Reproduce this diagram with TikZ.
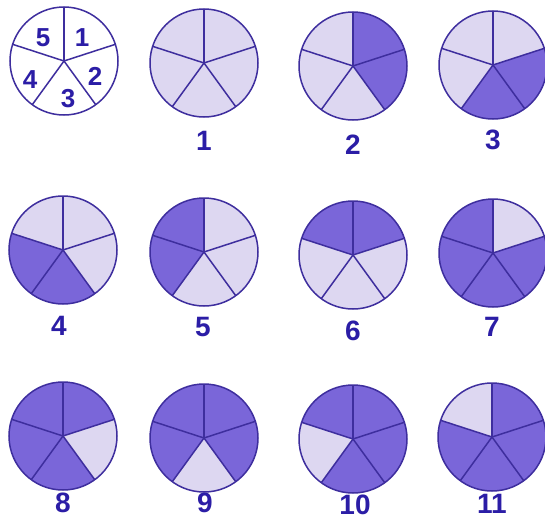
\documentclass[tikz,border=0pt]{standalone}
\usepackage{fontspec}
\setmainfont{Liberation Sans}
\definecolor{lt}{HTML}{DDD7F1}
\definecolor{dk}{HTML}{7A66D9}
\definecolor{ln}{HTML}{3E2E9E}
\definecolor{tx}{HTML}{2B1DA6}
\tikzset{
  lab/.style={text=tx, font=\bfseries\fontsize{28}{28}\selectfont, inner sep=0pt},
  keylab/.style={text=tx, font=\bfseries\fontsize{26}{26}\selectfont, inner sep=0pt},
  edge/.style={draw=ln, line width=1.5pt},
}
\newcommand\mypie[7]{%
  \begin{scope}[shift={(#1,-#2)}]
    \foreach \c [count=\k] in {#3,#4,#5,#6,#7} {
      \pgfmathsetmacro\a{90-72*(\k-1)}
      \fill[\c] (0,0) -- (\a:54) arc[start angle=\a, delta angle=-72, radius=54] -- cycle;
    }
    \foreach \k in {0,...,4} \draw[edge] (0,0) -- ({90-72*\k}:54);
    \draw[edge] (0,0) circle[radius=54];
  \end{scope}}
\begin{document}
\begin{tikzpicture}[x=1pt,y=1pt]
\useasboundingbox (0,0) rectangle (545,-522);
\fill[white] (0,0) rectangle (545,-522);
% key
\mypie{64}{61}{white}{white}{white}{white}{white}
\node[keylab] (k1) at (82,-38) {1};
\node[keylab] (k2) at (95,-76) {2};
\node[keylab] (k3) at (68,-99) {3};
\node[keylab] (k4) at (30,-80) {4};
\node[keylab] (k5) at (43,-38) {5};
% row 1
\mypie{204}{63}{lt}{lt}{lt}{lt}{lt}
\mypie{353}{66}{dk}{dk}{lt}{lt}{lt}
\mypie{493}{65}{lt}{dk}{dk}{lt}{lt}
\node[lab] (n1) at (204,-141) {1};
\node[lab] (n2) at (353,-145) {2};
\node[lab] (n3) at (493,-140) {3};
% row 2
\mypie{63}{250}{lt}{lt}{dk}{dk}{lt}
\mypie{204}{252}{lt}{lt}{lt}{dk}{dk}
\mypie{353}{255}{dk}{lt}{lt}{lt}{dk}
\mypie{493}{253}{lt}{dk}{dk}{dk}{dk}
\node[lab] (n4) at (59,-326) {4};
\node[lab] (n5) at (203,-327) {5};
\node[lab] (n6) at (353,-331) {6};
\node[lab] (n7) at (492,-327) {7};
% row 3
\mypie{63}{436}{dk}{lt}{dk}{dk}{dk}
\mypie{204}{438}{dk}{dk}{lt}{dk}{dk}
\mypie{353}{439}{dk}{dk}{dk}{lt}{dk}
\mypie{492}{437}{dk}{dk}{dk}{dk}{lt}
\node[lab] (n8) at (63,-503) {8};
\node[lab] (n9) at (205,-503) {9};
\node[lab] (n10) at (355,-505) {10};
\node[lab] (n11) at (492,-504) {11};
\end{tikzpicture}
\end{document}
